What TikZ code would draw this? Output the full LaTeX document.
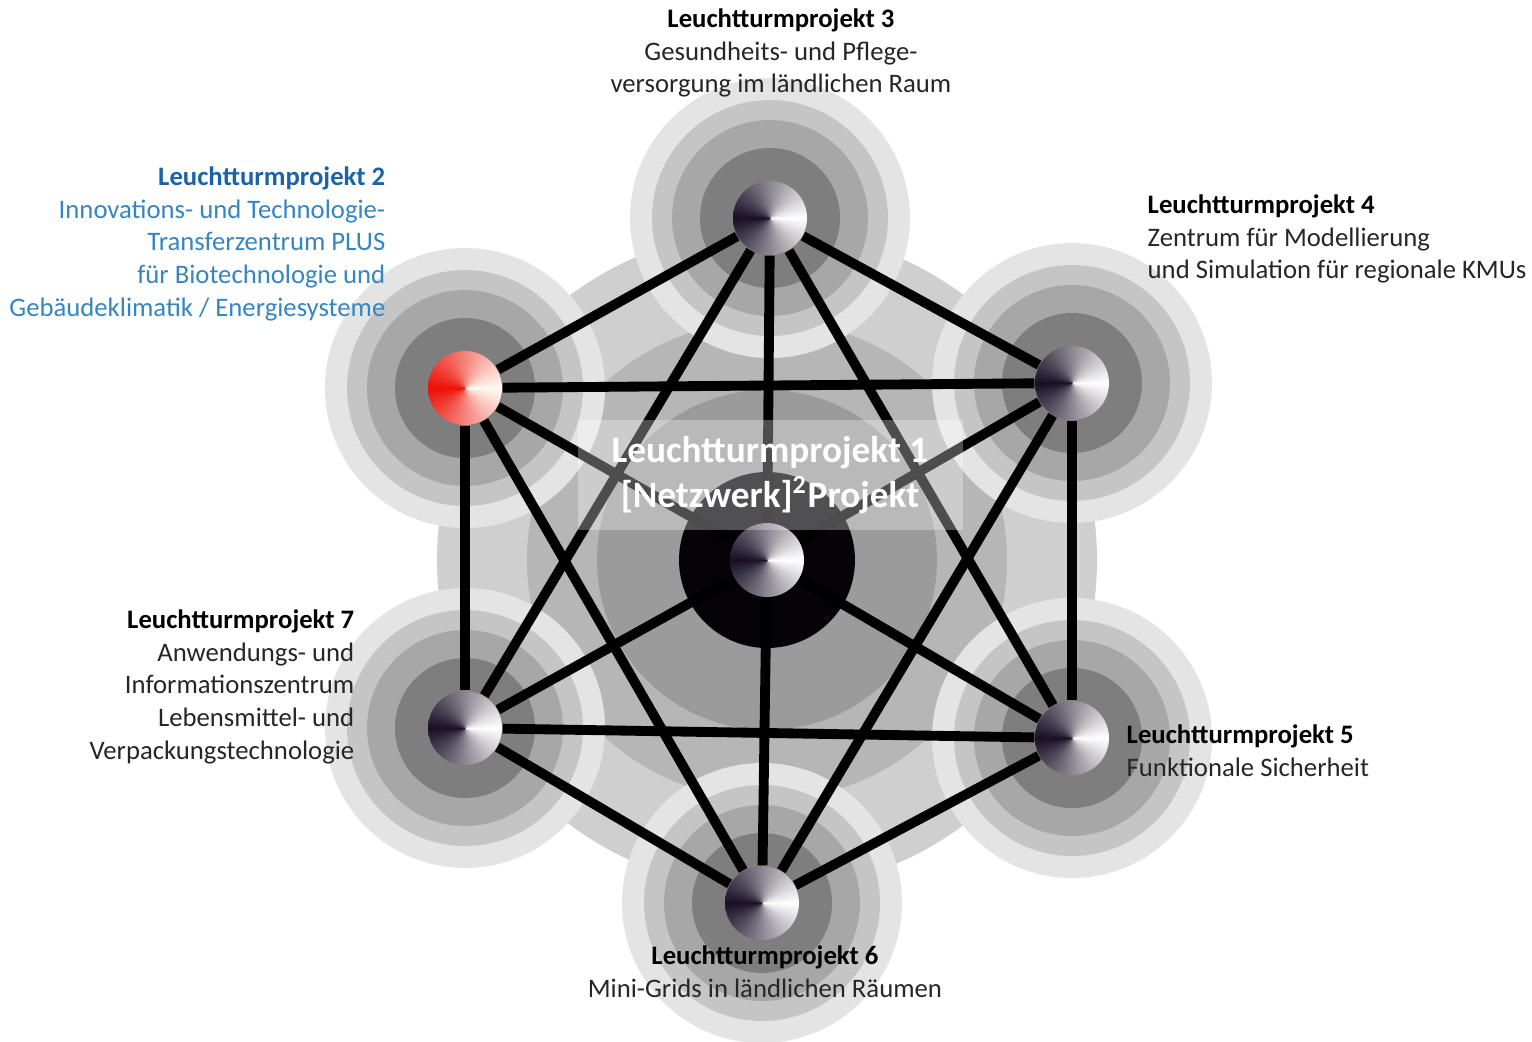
\documentclass[tikz,border=0pt]{standalone}
\usepackage{fontspec}
\setmainfont{Carlito}
\usepackage{xcolor}
\usepackage{tikz}
\usetikzlibrary{backgrounds}

\definecolor{haloA}{HTML}{7E7E7E}
\definecolor{haloB}{HTML}{A7A7A7}
\definecolor{haloC}{HTML}{C5C5C5}
\definecolor{haloD}{HTML}{E4E4E4}
\definecolor{coreA}{HTML}{050307}
\definecolor{coreB}{HTML}{9B9B9B}
\definecolor{coreC}{HTML}{B6B6B6}
\definecolor{coreD}{HTML}{CFCFCF}
\definecolor{blueHead}{HTML}{1A63A8}
\definecolor{blueText}{HTML}{3585C2}
\definecolor{textGray}{HTML}{262626}

% cone-like shading for the balls: dark on the left, white on the right
\pgfdeclarefunctionalshading{ballgray}{\pgfpoint{-100bp}{-100bp}}{\pgfpoint{100bp}{100bp}}{}{
  0.001 add exch atan 180 sub abs 180 div
  dup 0.9 mul 0.1 add exch dup 0.94 mul 0.06 add exch 0.85 mul 0.15 add
}
\pgfdeclarefunctionalshading{ballred}{\pgfpoint{-100bp}{-100bp}}{\pgfpoint{100bp}{100bp}}{}{
  0.001 add exch atan 180 sub abs 180 div
  dup 0.07 mul 0.93 add exch dup 0.92 mul 0.06 add exch 0.93 mul 0.02 add
}

\tikzset{
  ball/.style={circle, minimum size=0.74cm, inner sep=0pt, shading=ballgray},
  redball/.style={ball, shading=ballred},
  link/.style={line width=2.8pt, black},
  caption/.style={inner sep=0pt, font=\fontsize{7.6}{9.3}\selectfont, text=textGray},
}

\begin{document}
\begin{tikzpicture}
            \useasboundingbox (0,0) rectangle (15.32,-10.41);

            \node[ball] (lp1) at (7.67, -5.60) {};
            \node[redball] (lp2) at (4.65, -3.88) {};
            \node[ball] (lp3) at (7.70, -2.18) {};
            \node[ball] (lp4) at (10.72, -3.83) {};
            \node[ball] (lp5) at (10.72, -7.38) {};
            \node[ball] (lp6) at (7.62, -9.03) {};
            \node[ball] (lp7) at (4.65, -7.28) {};

            % halos behind everything
            \begin{scope}[on background layer]
                \fill[coreD] (lp1) circle (3.30);
                \fill[coreC] (lp1) circle (2.40);
                \fill[coreB] (lp1) circle (1.70);
                \fill[coreA] (lp1) circle (0.88);
                \foreach \n in {2,...,7} {
                    \fill[haloD] (lp\n) circle (1.40);
                    \fill[haloC] (lp\n) circle (1.18);
                    \fill[haloB] (lp\n) circle (0.98);
                    \fill[haloA] (lp\n) circle (0.70);
                }
            \end{scope}

            \foreach \a/\b in {lp3/lp4, lp4/lp5, lp5/lp6, lp6/lp7, lp7/lp2, lp2/lp3,
                               lp3/lp5, lp4/lp6, lp5/lp7, lp6/lp2, lp7/lp3, lp2/lp4}
                \draw[link] (\a) -- (\b);
            \foreach \n in {2,...,7}
                \draw[link] (lp1) -- (lp\n);

            \node[fill=white, fill opacity=0.3, text opacity=1, minimum width=3.85cm, minimum height=1.1cm,
                  align=center, text=white, font=\fontsize{10.6}{12.8}\selectfont\bfseries] (head) at (7.70, -4.75)
                {Leuchtturmprojekt 1\\{}[Netzwerk]\textsuperscript{2}Projekt};

            \node[caption, anchor=north, align=center] (t3) at (7.81, -0.08)
                {\textbf{\color{black}Leuchtturmprojekt 3}\\Gesundheits- und Pflege-\\versorgung im ländlichen Raum};
            \node[caption, anchor=north east, align=right, text=blueText] (t2) at (3.86, -1.66)
                {\textbf{\color{blueHead}Leuchtturmprojekt 2}\\Innovations- und Technologie-\\Transferzentrum PLUS\\für Biotechnologie und\\Gebäudeklimatik / Energiesysteme};
            \node[caption, anchor=north west, align=left] (t4) at (11.47, -1.94)
                {\textbf{\color{black}Leuchtturmprojekt 4}\\Zentrum für Modellierung\\und Simulation für regionale KMUs};
            \node[caption, anchor=north east, align=right] (t7) at (3.55, -6.09)
                {\textbf{\color{black}Leuchtturmprojekt 7}\\Anwendungs- und\\Informationszentrum\\Lebensmittel- und\\Verpackungstechnologie};
            \node[caption, anchor=north west, align=left] (t5) at (11.26, -7.24)
                {\textbf{\color{black}Leuchtturmprojekt 5}\\Funktionale Sicherheit};
            \node[caption, anchor=north, align=center] (t6) at (7.65, -9.45)
                {\textbf{\color{black}Leuchtturmprojekt 6}\\Mini-Grids in ländlichen Räumen};
        \end{tikzpicture}
\end{document}
